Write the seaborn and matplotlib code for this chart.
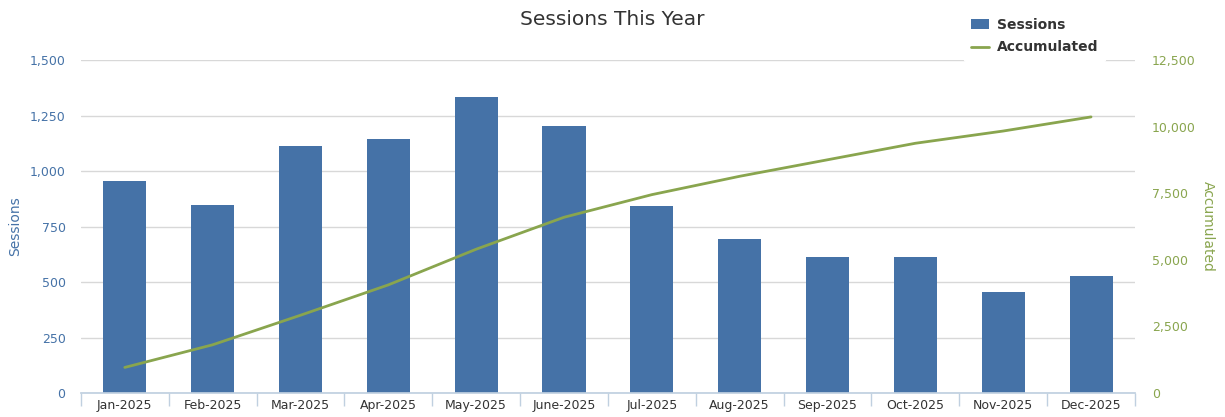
import numpy as np
import pandas as pd
import matplotlib
matplotlib.use("Agg")
import matplotlib.pyplot as plt
from matplotlib.patches import Patch
from matplotlib.lines import Line2D
from matplotlib.ticker import FuncFormatter, FixedLocator
import seaborn as sns

# Datos
meses = ['Jan-2025', 'Feb-2025', 'Mar-2025', 'Apr-2025', 'May-2025', 'June-2025',
         'Jul-2025', 'Aug-2025', 'Sep-2025', 'Oct-2025', 'Nov-2025', 'Dec-2025']
sesiones = [955, 848, 1113, 1144, 1333, 1203, 843, 695, 614, 614, 456, 527]
acumulado = [960, 1810, 2920, 4060, 5400, 6600, 7450, 8140, 8760, 9380, 9840, 10370]

color_barra = '#4572A7'
color_linea = '#89A54E'

sns.set_theme(style="white")
plt.rcParams['font.family'] = ['DejaVu Sans']

df = pd.DataFrame({'Mes': meses, 'Sessions': sesiones,
                   'Accumulated': acumulado, 'pos': range(len(meses))})

fig = plt.figure(figsize=(12.25, 4.17), dpi=100)
ax = fig.add_axes([0.066, 0.0576, 0.8605, 0.798])

sns.barplot(data=df, x='Mes', y='Sessions', color=color_barra, width=0.49,
            saturation=1, linewidth=0, ax=ax, zorder=2)
ax.set_xlim(-0.5, len(meses) - 0.5)
ax.set_ylim(0, 1500)
ax.set_yticks(range(0, 1501, 250))
ax.yaxis.set_major_formatter(FuncFormatter(lambda v, p: f"{int(v):,}"))
ax.grid(axis='y', color='#d8d8d8', linewidth=1, zorder=0)
ax.set_axisbelow(True)
ax.tick_params(axis='y', colors=color_barra, labelsize=9, length=0, pad=11)
ax.tick_params(axis='x', labelsize=9, length=0, labelcolor='#333333', pad=4)
ax.xaxis.set_minor_locator(FixedLocator(np.arange(-0.5, len(meses), 1)))
ax.tick_params(axis='x', which='minor', bottom=True, length=9, color='#C0D0E0', width=1)
ax.set_xlabel('')
ax.set_ylabel('Sessions', color=color_barra, fontsize=10)
ax.yaxis.set_label_coords(-0.056, 0.5)
for lado in ['left', 'right', 'top']:
    ax.spines[lado].set_visible(False)
ax.spines['bottom'].set_color('#C0D0E0')

ax2 = ax.twinx()
sns.lineplot(data=df, x='pos', y='Accumulated', color=color_linea, linewidth=2,
             ax=ax2, zorder=3)
ax2.set_ylim(0, 12500)
ax2.set_yticks(range(0, 12501, 2500))
ax2.yaxis.set_major_formatter(FuncFormatter(lambda v, p: f"{int(v):,}"))
ax2.tick_params(axis='y', colors=color_linea, labelsize=9, length=0, pad=12)
ax2.set_ylabel('Accumulated', color=color_linea, fontsize=10, rotation=270, va='center')
ax2.yaxis.set_label_coords(1.069, 0.5)
ax2.set_xlim(-0.5, len(meses) - 0.5)
for lado in ['left', 'right', 'top', 'bottom']:
    ax2.spines[lado].set_visible(False)

fig.suptitle('Sessions This Year', x=0.5, y=0.975, fontsize=14.5, color='#333333')

handles = [Patch(facecolor=color_barra, edgecolor='none'),
           Line2D([0], [0], color=color_linea, linewidth=2)]
leg = ax2.legend(handles, ['Sessions', 'Accumulated'], loc='upper left',
                 bbox_to_anchor=(0.781, 0.99), bbox_transform=fig.transFigure,
                 frameon=True, facecolor='white', edgecolor='white', framealpha=1,
                 prop={'weight': 'bold', 'size': 10}, handlelength=1.3,
                 handletextpad=0.6, labelspacing=0.6, borderpad=0.5)
for t in leg.get_texts():
    t.set_color('#333333')

fig.savefig('out.png', dpi=100)
